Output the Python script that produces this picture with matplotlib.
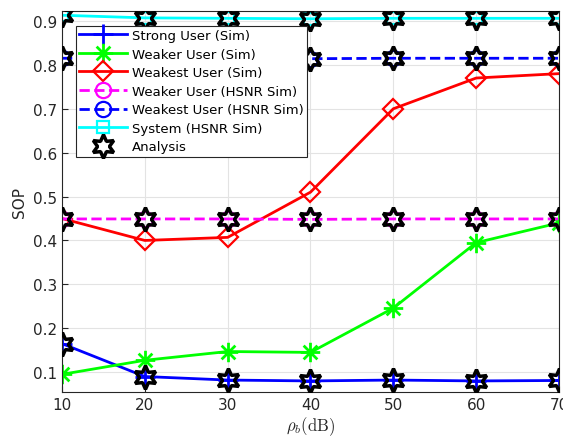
import numpy as np
import matplotlib.pyplot as plt
from matplotlib.path import Path

# ================= DATA =================
rho = [10, 20, 30, 40, 50, 60, 70]
strong_sim = [0.165, 0.090, 0.082, 0.080, 0.082, 0.080, 0.081]
weaker_sim = [0.095, 0.127, 0.147, 0.145, 0.246, 0.395, 0.440]
weakest_sim = [0.450, 0.400, 0.407, 0.510, 0.700, 0.770, 0.780]
weaker_hsnr = [0.449, 0.449, 0.449, 0.448, 0.449, 0.449, 0.449]
weakest_hsnr = [0.815, 0.815, 0.815, 0.814, 0.815, 0.815, 0.815]
system_hsnr = [0.913, 0.907, 0.906, 0.905, 0.906, 0.906, 0.906]
analysis_sets = [strong_sim, weaker_hsnr, weakest_hsnr, system_hsnr]

labels = ["Strong User (Sim)", "Weaker User (Sim)", "Weakest User (Sim)",
          "Weaker User (HSNR Sim)", "Weakest User (HSNR Sim)",
          "System (HSNR Sim)", "Analysis"]

plt.rcParams['mathtext.fontset'] = 'cm'
hexagram = (6, 1, 0)

# matlab-style asterisk: + and x overlaid
d = 0.7071
asterisk = Path([(0, -1), (0, 1), (-1, 0), (1, 0), (-d, -d), (d, d), (-d, d), (d, -d)],
                [Path.MOVETO, Path.LINETO] * 4)

fig = plt.figure(figsize=(5.63, 4.39), dpi=100)
ax = fig.add_axes([0.110, 0.105, 0.883, 0.868])

lw = 2
h1, = ax.plot(rho, strong_sim, '-', color='blue', lw=lw, marker='+', ms=15, mew=2)
h2, = ax.plot(rho, weaker_sim, '-', color='#00ff00', lw=lw, marker=asterisk, ms=14, mew=2)
h3, = ax.plot(rho, weakest_sim, '-', color='red', lw=lw, marker='D', ms=10, mew=1.6, mfc='none')
h4, = ax.plot(rho, weaker_hsnr, '--', color='magenta', lw=lw, marker='o', ms=11, mew=1.6, mfc='none')
h5, = ax.plot(rho, weakest_hsnr, '--', color='blue', lw=lw, marker='o', ms=11, mew=1.6, mfc='none')
h6, = ax.plot(rho, system_hsnr, '-', color='cyan', lw=lw, marker='s', ms=9, mew=1.6, mfc='none')
for i, vals in enumerate(analysis_sets):
    h7, = ax.plot(rho, vals, linestyle='none', marker=hexagram, ms=17, mew=2.5,
                  mfc='none', mec='black', zorder=5)

ax.set_xlim(10, 70)
ax.set_ylim(0.055, 0.923)
ax.set_xticks(rho)
ax.set_yticks(np.arange(0.1, 0.91, 0.1))
ax.set_yticklabels(["0.1", "0.2", "0.3", "0.4", "0.5", "0.6", "0.7", "0.8", "0.9"])
ax.grid(True, color='#e3e3e3', lw=0.8)
ax.set_axisbelow(True)
ax.tick_params(direction='in', labelsize=11, colors='#262626', length=4)
for s in ax.spines.values():
    s.set_color('#262626')

ax.set_xlabel(r'$\rho_b(\mathrm{dB})$', fontsize=12, color='#262626', labelpad=2)
ax.set_ylabel('SOP', fontsize=11, color='#262626')

leg = ax.legend([h1, h2, h3, h4, h5, h6, h7], labels, loc='upper left',
                bbox_to_anchor=(0.028, 0.961), fontsize=9.5, frameon=True,
                fancybox=False, edgecolor='#262626', framealpha=1,
                handlelength=3.6, labelspacing=0.42, borderpad=0.25,
                handletextpad=0.4, borderaxespad=0)
leg.get_frame().set_linewidth(0.8)

fig.savefig("out.png", dpi=100)
